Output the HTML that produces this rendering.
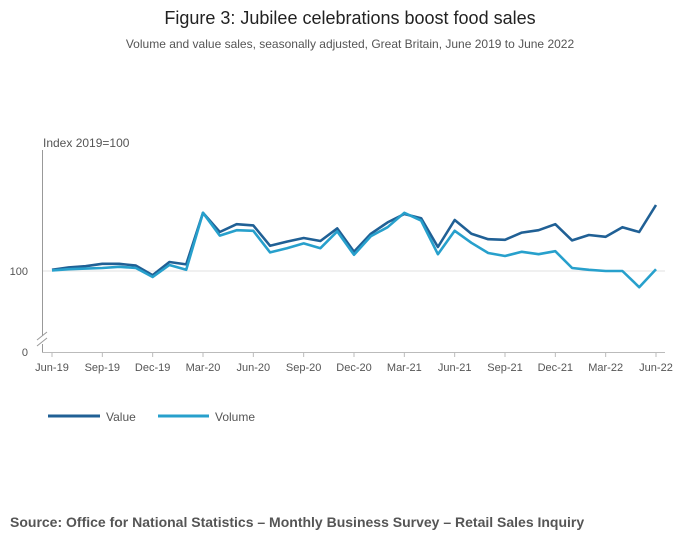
<!DOCTYPE html>
<html><head><meta charset="utf-8"><style>
body{margin:0;background:#fff;font-family:"Liberation Sans",sans-serif;}
svg text{font-family:"Liberation Sans",sans-serif;}
</style></head><body>
<svg width="700" height="549" viewBox="0 0 700 549">
<text x="350" y="24" text-anchor="middle" font-size="18" fill="#222">Figure 3: Jubilee celebrations boost food sales</text>
<text x="350" y="48" text-anchor="middle" font-size="12" fill="#555">Volume and value sales, seasonally adjusted, Great Britain, June 2019 to June 2022</text>
<text x="43" y="147" font-size="12" fill="#555">Index 2019=100</text>
<g id="axes"></g>
<g id="series"></g>
<g>
<g><line x1="48" y1="416" x2="100" y2="416" stroke="#206095" stroke-width="3"/><text x="106" y="421" font-size="12" fill="#555">Value</text></g>
<g><line x1="158" y1="416" x2="209" y2="416" stroke="#27a0cc" stroke-width="3"/><text x="215" y="421" font-size="12" fill="#555">Volume</text></g>
</g>
<text x="10" y="527" font-size="14" font-weight="bold" fill="#555">Source: Office for National Statistics – Monthly Business Survey – Retail Sales Inquiry</text>
</svg>
<script>
const months = 37;
const tickLabels = ["Jun-19","Sep-19","Dec-19","Mar-20","Jun-20","Sep-20","Dec-20","Mar-21","Jun-21","Sep-21","Dec-21","Mar-22","Jun-22"];
const valueSeries = [100.2,100.6,100.8,101.2,101.2,100.9,99.3,101.5,101.1,109.7,106.5,107.8,107.6,104.2,104.9,105.5,105.0,107.1,103.2,106.2,108.1,109.5,108.8,104.0,108.5,106.2,105.3,105.2,106.4,106.8,107.8,105.1,106.0,105.7,107.3,106.5,111.0];
const volumeSeries = [100.1,100.3,100.4,100.5,100.7,100.5,99.0,101.0,100.2,109.7,105.9,106.8,106.7,103.1,103.8,104.6,103.8,106.6,102.7,105.8,107.3,109.7,108.4,102.8,106.7,104.7,103.0,102.5,103.2,102.8,103.3,100.5,100.2,100.0,100.0,97.3,100.3];
const NS="http://www.w3.org/2000/svg";
function xs(i){return 52+i*(656-52)/36;}
function ys(v){return 271-(v-100)*6;}
function mk(tag,attrs,parent){const e=document.createElementNS(NS,tag);for(const k in attrs)e.setAttribute(k,attrs[k]);parent.appendChild(e);return e;}
const ax=document.getElementById('axes');
let g=mk('line',{x1:42,y1:ys(100),x2:665,y2:ys(100),stroke:'#e0e0e0','stroke-width':1},ax);


let yl=mk('path',{d:'M42.5 150 V336 M42.5 344 V352',stroke:'#999',fill:'none'},ax);


let br=mk('path',{d:'M37 340 L47 332 M37 346 L47 338',stroke:'#999',fill:'none'},ax);


let t1=mk('text',{x:28,y:275,'font-size':11,fill:'#555','text-anchor':'end'},ax);t1.textContent='100';


let t0=mk('text',{x:28,y:356,'font-size':11,fill:'#555','text-anchor':'end'},ax);t0.textContent='0';


let xl=mk('line',{x1:42,y1:352.5,x2:665,y2:352.5,stroke:'#bbb'},ax);


tickLabels.forEach((l,k)=>{const x=xs(k*3);
 const tk=mk('line',{x1:x,y1:352,x2:x,y2:357,stroke:'#bbb'},ax);
 
 
 const t=mk('text',{x:x,y:371,'font-size':11,fill:'#555','text-anchor':'middle'},ax);t.textContent=l;
 
 
});
const se=document.getElementById('series');
function line(arr,color,name){
 const d=arr.map((v,i)=>(i?'L':'M')+xs(i).toFixed(1)+' '+ys(v).toFixed(1)).join(' ');
 const p=mk('path',{d:d,stroke:color,'stroke-width':2.6,fill:'none','stroke-linejoin':'round'},se);
 
 
}
line(valueSeries,'#206095','value-line');
line(volumeSeries,'#27a0cc','volume-line');
</script>
</body></html>
